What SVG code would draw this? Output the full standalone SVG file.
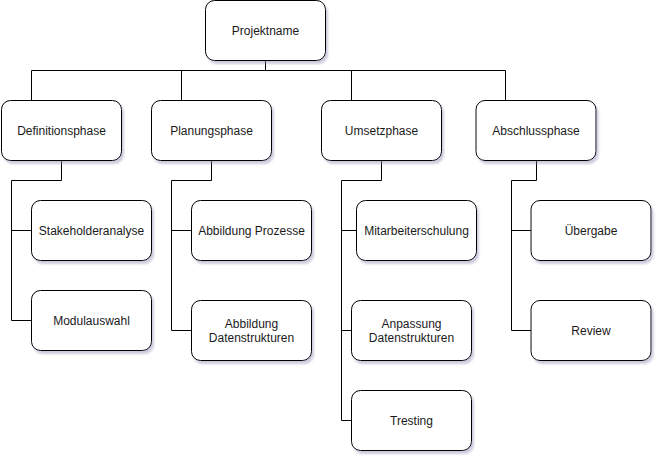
<svg xmlns="http://www.w3.org/2000/svg" width="662" height="462" viewBox="0 0 662 462">
<defs>
<filter id="sh" x="-10%" y="-10%" width="130%" height="140%">
<feGaussianBlur in="SourceAlpha" stdDeviation="1.2"/>
<feOffset dx="2" dy="3" result="b"/>
<feFlood flood-color="#8c8cb4" flood-opacity="0.45"/>
<feComposite in2="b" operator="in"/>
<feMerge><feMergeNode/><feMergeNode in="SourceGraphic"/></feMerge>
</filter>
</defs>
<style>
.box{fill:#fff;stroke:#000;stroke-width:1;filter:url(#sh)}
.t{font-family:"Liberation Sans",Arial,sans-serif;font-size:12px;fill:#1a1a1a;text-anchor:middle;dominant-baseline:central}
.c{fill:none;stroke:#000;stroke-width:1}
</style>
<rect width="662" height="462" fill="#fff"/>
<g id="connectors" class="c">
<path d="M265.5 60.5V70.5M31.5 70.5H505.5M31.5 70.5V100.5M181.5 70.5V100.5M351.5 70.5V100.5M505.5 70.5V100.5"/>
<path d="M61.5 160.5V180.5H11.5V320.5H31.5M11.5 230.5H31.5"/>
<path d="M211.5 160.5V180.5H171.5V330.5H191.5M171.5 230.5H191.5"/>
<path d="M381.5 160.5V180.5H341.5V420.5H351.5M341.5 330.5H351.5M341.5 230.5H356.5"/>
<path d="M536.5 160.5V180.5H511.5V330.5H531.5M511.5 230.5H531.5"/>
</g>
<g id="n-root"><rect class="box" x="205.5" y="0.5" width="120" height="60" rx="9"/><text class="t" x="265.5" y="30.5">Projektname</text></g>
<g id="n-def"><rect class="box" x="1.5" y="100.5" width="120" height="60" rx="9"/><text class="t" x="61.5" y="130.5">Definitionsphase</text></g>
<g id="n-plan"><rect class="box" x="151.5" y="100.5" width="120" height="60" rx="9"/><text class="t" x="211.5" y="130.5">Planungsphase</text></g>
<g id="n-ums"><rect class="box" x="321.5" y="100.5" width="120" height="60" rx="9"/><text class="t" x="381.5" y="130.5">Umsetzphase</text></g>
<g id="n-abs"><rect class="box" x="476" y="100.5" width="120" height="60" rx="9"/><text class="t" x="536" y="130.5">Abschlussphase</text></g>
<g id="n-stake"><rect class="box" x="31.5" y="200.5" width="120" height="60" rx="9"/><text class="t" x="91.5" y="230.5">Stakeholderanalyse</text></g>
<g id="n-modul"><rect class="box" x="31.5" y="290.5" width="120" height="60" rx="9"/><text class="t" x="91.5" y="320.5">Modulauswahl</text></g>
<g id="n-abbp"><rect class="box" x="191.5" y="200.5" width="120" height="60" rx="9"/><text class="t" x="251.5" y="230.5">Abbildung Prozesse</text></g>
<g id="n-abbd"><rect class="box" x="191.5" y="300.5" width="120" height="60" rx="9"/><text class="t" x="251.5" y="323.5">Abbildung</text><text class="t" x="251.5" y="337.5">Datenstrukturen</text></g>
<g id="n-mit"><rect class="box" x="356.5" y="200.5" width="120" height="60" rx="9"/><text class="t" x="416.5" y="230.5">Mitarbeiterschulung</text></g>
<g id="n-anp"><rect class="box" x="351.5" y="300.5" width="120" height="60" rx="9"/><text class="t" x="411.5" y="323.5">Anpassung</text><text class="t" x="411.5" y="337.5">Datenstrukturen</text></g>
<g id="n-tres"><rect class="box" x="351.5" y="390.5" width="120" height="60" rx="9"/><text class="t" x="411.5" y="420.5">Tresting</text></g>
<g id="n-ueb"><rect class="box" x="531" y="200.5" width="120" height="60" rx="9"/><text class="t" x="591" y="230.5">Übergabe</text></g>
<g id="n-rev"><rect class="box" x="531" y="300.5" width="120" height="60" rx="9"/><text class="t" x="591" y="330.5">Review</text></g>
</svg>
